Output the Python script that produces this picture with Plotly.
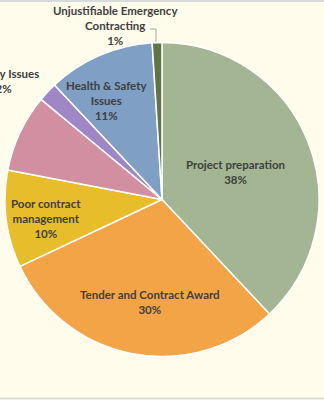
import plotly.graph_objects as go

labels = ["Project preparation", "Tender and Contract Award", "Poor contract management",
          "Other", "Quality Issues", "Health & Safety Issues",
          "Unjustifiable Emergency Contracting"]
values = [38, 30, 10, 8, 2, 11, 1]
colors = ["#A3B592", "#F3A447", "#E7BD2B", "#D28FA2", "#9F86C4", "#7F9FC5", "#5F7547"]

# label texts (display) and their positions in pixels (x from left, y from top)
label_texts = ["Project preparation<br>38%", "Tender and Contract Award<br>30%",
               "Poor contract<br>management<br>10%", None, "Quality Issues<br>2%",
               "Health & Safety<br>Issues<br>11%", "Unjustifiable Emergency<br>Contracting<br>1%"]
label_pos = [(235, 172), (150, 302), (46, 218), None, (3, 81), (106, 100), (115, 26)]

W, H = 324, 400
fig = go.Figure(go.Pie(
    labels=labels, values=values, sort=False, direction="clockwise", rotation=0,
    marker=dict(colors=colors, line=dict(color="white", width=1.5)),
    textinfo="none", hoverinfo="label+percent", showlegend=False,
    domain=dict(x=[5 / W, 319 / W], y=[(200.5 - 157) / H, (200.5 + 157) / H]),
))

for t, p in zip(label_texts, label_pos):
    if t is None:
        continue
    fig.add_annotation(text="<b>" + t + "</b>", x=p[0] / W, y=1 - p[1] / H,
                       xref="paper", yref="paper", showarrow=False, align="center",
                       xanchor="center", yanchor="middle",
                       font=dict(family="Lato", size=11.5, color="#404040"))

# leader line for the 1% label
fig.add_shape(type="path", xref="paper", yref="paper",
              path=f"M {150/W} {1-29/H} L {156/W} {1-29/H} L {156/W} {1-42/H}",
              line=dict(color="#A6A6A6", width=1))
# top and bottom frame lines
fig.add_shape(type="line", xref="paper", yref="paper", x0=0, x1=1, y0=1 - 1 / H, y1=1 - 1 / H,
              line=dict(color="#D9D9D9", width=2))
fig.add_shape(type="line", xref="paper", yref="paper", x0=0, x1=1, y0=1.5 / H, y1=1.5 / H,
              line=dict(color="#D9D9D9", width=2))

fig.update_layout(width=W, height=H, margin=dict(l=0, r=0, t=0, b=0),
                  paper_bgcolor="#FFFCEB", plot_bgcolor="#FFFCEB")
fig.write_html("out.html")
